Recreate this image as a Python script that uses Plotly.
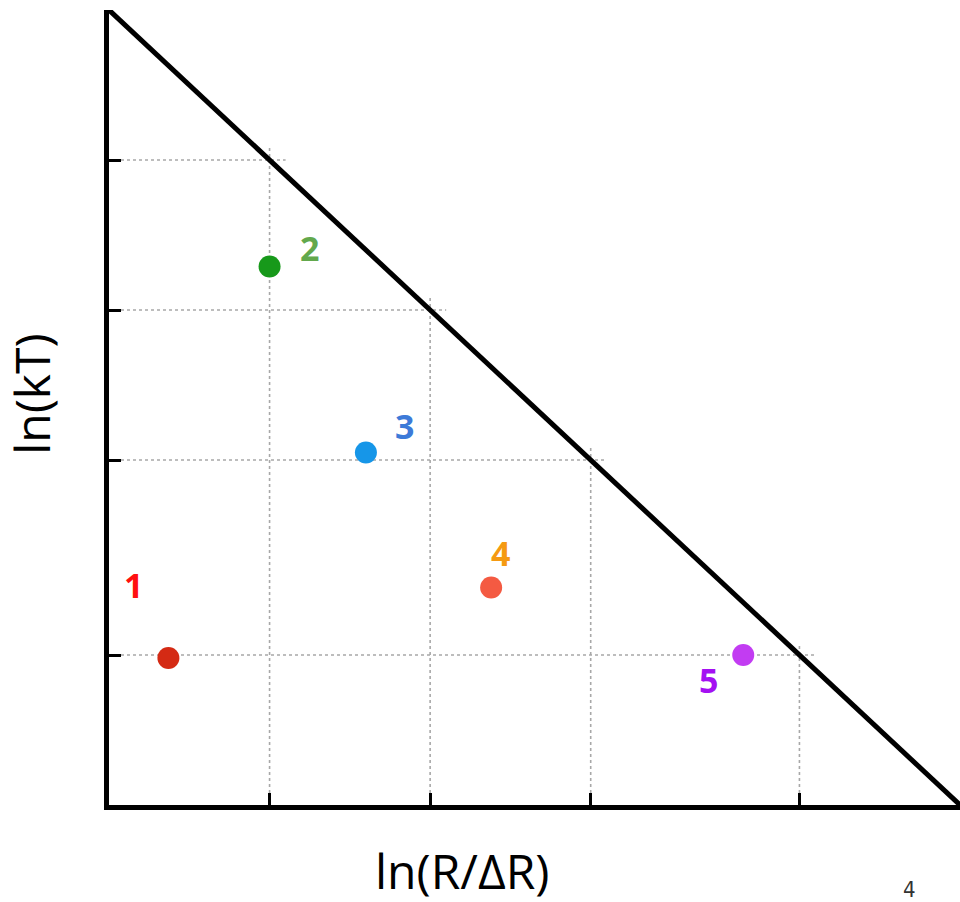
import plotly.graph_objects as go

# ---- data ----
limit = 5.3                      # diagonal: x + y = limit
x_ticks = [1.0, 2.0, 3.0, 4.3]   # vertical grid / tick positions
y_ticks = [4.3, 3.3, 2.3, 1.0]   # horizontal grid positions (paired with x_ticks on the diagonal)
point_labels = ["1", "2", "3", "4", "5"]
point_x = [0.37, 1.0, 1.6, 2.38, 3.95]
point_y = [0.98, 3.59, 2.35, 1.45, 1.0]
marker_colors = ["#d42a14", "#17991a", "#1696e8", "#f45a42", "#c23cf2"]
label_colors = ["#ff1010", "#62a84c", "#3d7ad8", "#f59a12", "#a410f2"]
label_dx = [-35, 40, 39, 9, -35]     # label offset from point (px)
label_dy = [73, 19, 27, 35, -25]

fig = go.Figure()

# dotted grid segments running up to the diagonal
grid_style = dict(color="#a8a8a8", width=1.6, dash="dot")
for xt, yt in zip(x_ticks, y_ticks):
    fig.add_trace(go.Scatter(x=[0, xt + 0.1], y=[yt, yt], mode="lines",
                             line=grid_style, hoverinfo="skip", showlegend=False))
    fig.add_trace(go.Scatter(x=[xt, xt], y=[0, yt + 0.08], mode="lines",
                             line=grid_style, hoverinfo="skip", showlegend=False))

# diagonal boundary
fig.add_trace(go.Scatter(x=[0, limit], y=[limit, 0], mode="lines",
                         line=dict(color="black", width=5), cliponaxis=False,
                         hoverinfo="skip", showlegend=False))

# points
fig.add_trace(go.Scatter(x=point_x, y=point_y, mode="markers",
                         marker=dict(size=22, color=marker_colors),
                         cliponaxis=False, showlegend=False))

annotations = []
for lab, x, y, c, dx, dy in zip(point_labels, point_x, point_y, label_colors, label_dx, label_dy):
    annotations.append(dict(x=x, y=y, xref="x", yref="y", text=f"<b>{lab}</b>",
                            showarrow=False, xshift=dx, yshift=dy,
                            font=dict(family="Open Sans", size=34, color=c)))

annotations.append(dict(x=0.415, y=-0.126, xref="paper", yref="paper", text="ln(R/ΔR)",
                        showarrow=False, font=dict(family="Open Sans", size=48, color="black")))
annotations.append(dict(x=-0.13, y=0.517, xref="paper", yref="paper", text="ln(kT)",
                        textangle=-90, showarrow=False, borderpad=0,
                        font=dict(family="Open Sans", size=48, color="black")))
annotations.append(dict(x=0.951, y=-0.125, xref="paper", yref="paper", text="4",
                        showarrow=False,
                        font=dict(family="DejaVu Sans Condensed, Liberation Sans Narrow", size=22, color="#333333")))

axis_common = dict(range=[0, limit], showline=True, linecolor="black", linewidth=5,
                   ticks="inside", ticklen=12, tickwidth=3, tickcolor="black",
                   showticklabels=False, showgrid=False, zeroline=False, mirror=False)

fig.update_layout(
    width=960, height=902,
    margin=dict(l=109, r=0, t=10, b=97),
    paper_bgcolor="white", plot_bgcolor="white",
    xaxis=dict(tickvals=x_ticks, **axis_common),
    yaxis=dict(tickvals=y_ticks, **axis_common),
    annotations=annotations,
    showlegend=False,
)

fig.write_html("out.html")
